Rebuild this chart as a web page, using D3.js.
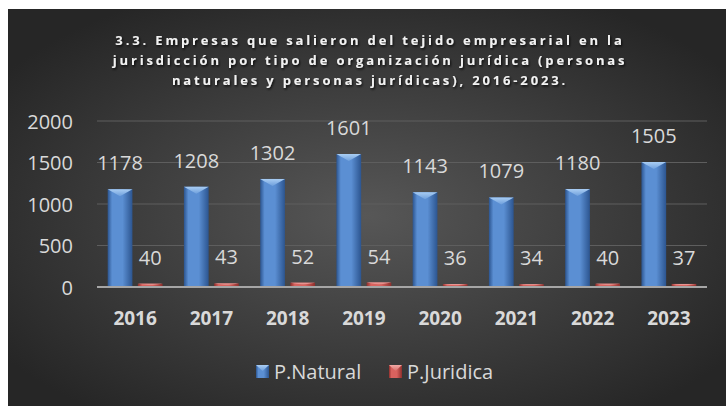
<!DOCTYPE html>
<html>
<head>
<meta charset="utf-8">
<script src="https://cdn.jsdelivr.net/npm/d3@7"></script>
<style>
  body { margin: 0; background: #fff; }
  svg { display: block; }
</style>
</head>
<body>
<div id="container"></div>
<script>
let w = 726;
let h = 406;

// data
let years = ["2016", "2017", "2018", "2019", "2020", "2021", "2022", "2023"];
let natural = [1178, 1208, 1302, 1601, 1143, 1079, 1180, 1505];
let juridica = [40, 43, 52, 54, 36, 34, 40, 37];
let seriesNames = ["P.Natural", "P.Juridica"];
let yTicks = [0, 500, 1000, 1500, 2000];
let titleLines = [
  "3.3. Empresas que salieron del tejido empresarial en la",
  "jurisdicción por tipo de organización jurídica (personas",
  "naturales y personas jurídicas), 2016-2023."
];

let plotLeft = 97;
let plotRight = 707;
let plotTop = 121;
let plotBottom = 287;

let viz = d3.select("#container")
  .append("svg")
  .attr("width", w)
  .attr("height", h);

let defs = viz.append("defs");

let bg = defs.append("radialGradient")
  .attr("id", "bg")
  .attr("cx", "50%").attr("cy", "52%").attr("r", "62%");
bg.append("stop").attr("offset", "0%").attr("stop-color", "#575757");
bg.append("stop").attr("offset", "100%").attr("stop-color", "#262626");

// bar gradients, one per series
let palettes = [
  { id: "blue", edge: "#2c5590", mid: "#5b8fd3", tip: "#a9cdf3", tipEdge: "#6e9fdc" },
  { id: "red", edge: "#8e2f2c", mid: "#d8625e", tip: "#f2aaa6", tipEdge: "#d66d69" }
];
palettes.forEach(function(p) {
  let g = defs.append("linearGradient").attr("id", "body-" + p.id)
    .attr("x1", "0%").attr("x2", "100%").attr("y1", "0%").attr("y2", "0%");
  g.append("stop").attr("offset", "0%").attr("stop-color", p.edge);
  g.append("stop").attr("offset", "18%").attr("stop-color", p.mid);
  g.append("stop").attr("offset", "60%").attr("stop-color", p.mid);
  g.append("stop").attr("offset", "100%").attr("stop-color", p.edge);
  let t = defs.append("linearGradient").attr("id", "tip-" + p.id)
    .attr("x1", "0%").attr("x2", "0%").attr("y1", "0%").attr("y2", "100%");
  t.append("stop").attr("offset", "0%").attr("stop-color", p.tip);
  t.append("stop").attr("offset", "100%").attr("stop-color", p.tipEdge);
});

let shadow = defs.append("filter").attr("id", "shadow")
  .attr("x", "-10%").attr("y", "-30%").attr("width", "120%").attr("height", "160%");
shadow.append("feDropShadow")
  .attr("dx", 1).attr("dy", 1.5).attr("stdDeviation", 1)
  .attr("flood-color", "#000").attr("flood-opacity", 0.8);

// panel
viz.append("rect")
  .attr("x", 8).attr("y", 9)
  .attr("width", w - 8).attr("height", h - 9)
  .attr("fill", "url(#bg)");

// title
viz.append("g").selectAll("text").data(titleLines).enter()
  .append("text")
  .text(function(d) { return d; })
  .attr("x", 370)
  .attr("y", function(d, i) { return 45 + i * 20; })
  .attr("text-anchor", "middle")
  .attr("font-family", "'Open Sans', sans-serif")
  .attr("font-weight", "bold")
  .attr("font-size", "13px")
  .attr("letter-spacing", "2.85px")
  .attr("fill", "#f2f2f2")
  .attr("filter", "url(#shadow)");

// scales
let yScale = d3.scaleLinear().domain([0, 2000]).range([plotBottom, plotTop]);
let x0 = d3.scaleBand().domain(years).range([plotLeft, plotRight])
  .paddingInner(0.28).paddingOuter(0.14);
let x1 = d3.scaleBand().domain(seriesNames).range([0, x0.bandwidth()])
  .paddingInner(0.18);

// gridlines
viz.append("g").selectAll("line").data(yTicks.slice(1)).enter()
  .append("line")
  .attr("x1", plotLeft).attr("x2", plotRight)
  .attr("y1", function(d) { return yScale(d); })
  .attr("y2", function(d) { return yScale(d); })
  .attr("stroke", "#5e5e5e")
  .attr("stroke-width", 1);

// y axis
let yAxis = d3.axisLeft(yScale).tickValues(yTicks).tickFormat(d3.format("d"))
  .tickSize(0).tickPadding(0);
let yg = viz.append("g")
  .attr("transform", "translate(73,0)")
  .call(yAxis);
yg.select(".domain").remove();
yg.selectAll("text")
  .attr("font-family", "'Open Sans', sans-serif")
  .attr("font-size", "20px")
  .attr("fill", "#d9d9d9")
  .attr("dy", "0.35em");

// x axis
let xAxis = d3.axisBottom(x0).tickSize(0).tickPadding(0);
let xg = viz.append("g")
  .attr("transform", "translate(0," + plotBottom + ")")
  .call(xAxis);
xg.select(".domain").remove();
xg.selectAll("text")
  .attr("y", 38)
  .attr("dy", 0)
  .attr("font-family", "'Open Sans', sans-serif")
  .attr("font-weight", "bold")
  .attr("font-size", "19px")
  .attr("fill", "#d9d9d9");

// bars
let rows = years.map(function(y, i) {
  return { year: y, values: [
    { key: seriesNames[0], value: natural[i], pal: "blue" },
    { key: seriesNames[1], value: juridica[i], pal: "red" }
  ] };
});

let groups = viz.selectAll(".datagroup").data(rows).enter()
  .append("g")
  .attr("class", "datagroup")
  .attr("transform", function(d) { return "translate(" + x0(d.year) + ",0)"; });

let bars = groups.selectAll(".bar").data(function(d) { return d.values; }).enter()
  .append("g")
  .attr("class", "bar");

bars.append("rect")
  .attr("x", function(d) { return x1(d.key); })
  .attr("y", function(d) { return yScale(d.value); })
  .attr("width", x1.bandwidth())
  .attr("height", function(d) { return plotBottom - yScale(d.value); })
  .attr("fill", function(d) { return "url(#body-" + d.pal + ")"; });

bars.append("path")
  .attr("d", function(d) {
    let bx = x1(d.key);
    let bw = x1.bandwidth();
    let top = yScale(d.value);
    let th = Math.min(7, (plotBottom - top) / 2);
    return "M" + bx + "," + top + "L" + (bx + bw) + "," + top +
      "L" + (bx + bw / 2) + "," + (top + th) + "Z";
  })
  .attr("fill", function(d) { return "url(#tip-" + d.pal + ")"; });

// baseline
viz.append("line")
  .attr("x1", plotLeft).attr("x2", plotRight)
  .attr("y1", plotBottom).attr("y2", plotBottom)
  .attr("stroke", "#a6a6a6")
  .attr("stroke-width", 2);

// value labels
bars.append("text")
  .text(function(d) { return d.value; })
  .attr("x", function(d) { return x1(d.key) + x1.bandwidth() / 2; })
  .attr("y", function(d) { return yScale(d.value) - 19; })
  .attr("text-anchor", "middle")
  .attr("font-family", "'Open Sans', sans-serif")
  .attr("font-size", "20px")
  .attr("fill", "#d9d9d9");

// legend
let legendX = [256, 389];
let legend = viz.selectAll(".legend").data(palettes).enter()
  .append("g")
  .attr("class", "legend")
  .attr("transform", function(d, i) { return "translate(" + legendX[i] + ",365)"; });

legend.append("rect")
  .attr("width", 13).attr("height", 13)
  .attr("fill", function(d) { return "url(#body-" + d.id + ")"; });
legend.append("path")
  .attr("d", "M0,0L13,0L6.5,6Z")
  .attr("fill", function(d) { return "url(#tip-" + d.id + ")"; });
legend.append("text")
  .text(function(d, i) { return seriesNames[i]; })
  .attr("x", 18)
  .attr("y", 14)
  .attr("font-family", "'Open Sans', sans-serif")
  .attr("font-size", "20px")
  .attr("fill", "#d9d9d9");
</script>
</body>
</html>
